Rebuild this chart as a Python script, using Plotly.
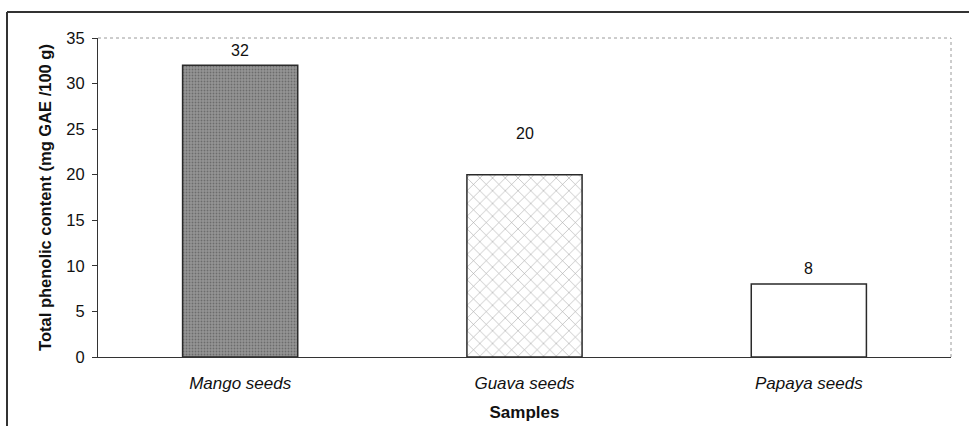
import plotly.graph_objects as go

categories = ["Mango seeds", "Guava seeds", "Papaya seeds"]
values = [32, 20, 8]
label_shift = [15, 41, 16]
bar_colors = ["#959595", "#ffffff", "#ffffff"]
pattern_shapes = [".", "x", ""]
pattern_fg = ["#7a7a7a", "#a8a8a8", "#ffffff"]
pattern_size = [3, 9, 8]
pattern_solidity = [0.3, 0.12, 0.1]

FONT = "Liberation Sans, Arial, sans-serif"

fig = go.Figure()
fig.add_trace(go.Bar(
    x=categories, y=values,
    marker=dict(
        color=bar_colors,
        line=dict(color="#2a2a2a", width=1.5),
        pattern=dict(shape=pattern_shapes, fgcolor=pattern_fg,
                     size=pattern_size, solidity=pattern_solidity, fillmode="overlay"),
    ),
    width=0.405,
    hoverinfo="skip",
))

for c, v, s in zip(categories, values, label_shift):
    fig.add_annotation(x=c, y=v, text=str(v), showarrow=False, yshift=s,
                       font=dict(family=FONT, size=16, color="#111"), yanchor="middle")

# plot-area dotted top/right border
fig.add_shape(type="line", xref="paper", yref="paper", x0=0, x1=1, y0=1, y1=1,
              line=dict(color="#9a9a9a", width=1, dash="dot"))
fig.add_shape(type="line", xref="paper", yref="paper", x0=1, x1=1, y0=0, y1=1,
              line=dict(color="#9a9a9a", width=1, dash="dot"))

# outer frame (left and top, running off the page)
fig.add_shape(type="line", xref="paper", yref="paper",
              x0=(7 - 98) / 853, x1=(975 - 98) / 853, y0=(357 - 12) / 319, y1=(357 - 12) / 319,
              line=dict(color="#333", width=2))
fig.add_shape(type="line", xref="paper", yref="paper",
              x0=(7 - 98) / 853, x1=(7 - 98) / 853, y0=(357 - 12) / 319, y1=(357 - 430) / 319,
              line=dict(color="#333", width=2))

fig.update_layout(
    width=969, height=426,
    margin=dict(l=98, r=18, t=38, b=69),
    paper_bgcolor="white", plot_bgcolor="white",
    showlegend=False,
    font=dict(family=FONT, color="#111"),
    xaxis=dict(
        automargin=False,
        showline=True, linecolor="#333", linewidth=1.2,
        ticks="", showgrid=False,
        tickfont=dict(family=FONT, size=17, style="italic"),
        ticklabelstandoff=10,
        title=dict(text="<b>Samples</b>", font=dict(family=FONT, size=17), standoff=14),
    ),
    yaxis=dict(
        automargin=False,
        range=[0, 35], dtick=5, tick0=0,
        showline=True, linecolor="#333", linewidth=1.2,
        ticks="outside", ticklen=5, tickcolor="#333",
        showgrid=False, zeroline=False,
        tickfont=dict(family=FONT, size=16.5),
        ticklabelstandoff=4,
        title=dict(text="<b>Total phenolic content (mg GAE /100 g)</b>",
                   font=dict(family=FONT, size=16.5), standoff=10),
    ),
)

fig.write_html("out.html")
